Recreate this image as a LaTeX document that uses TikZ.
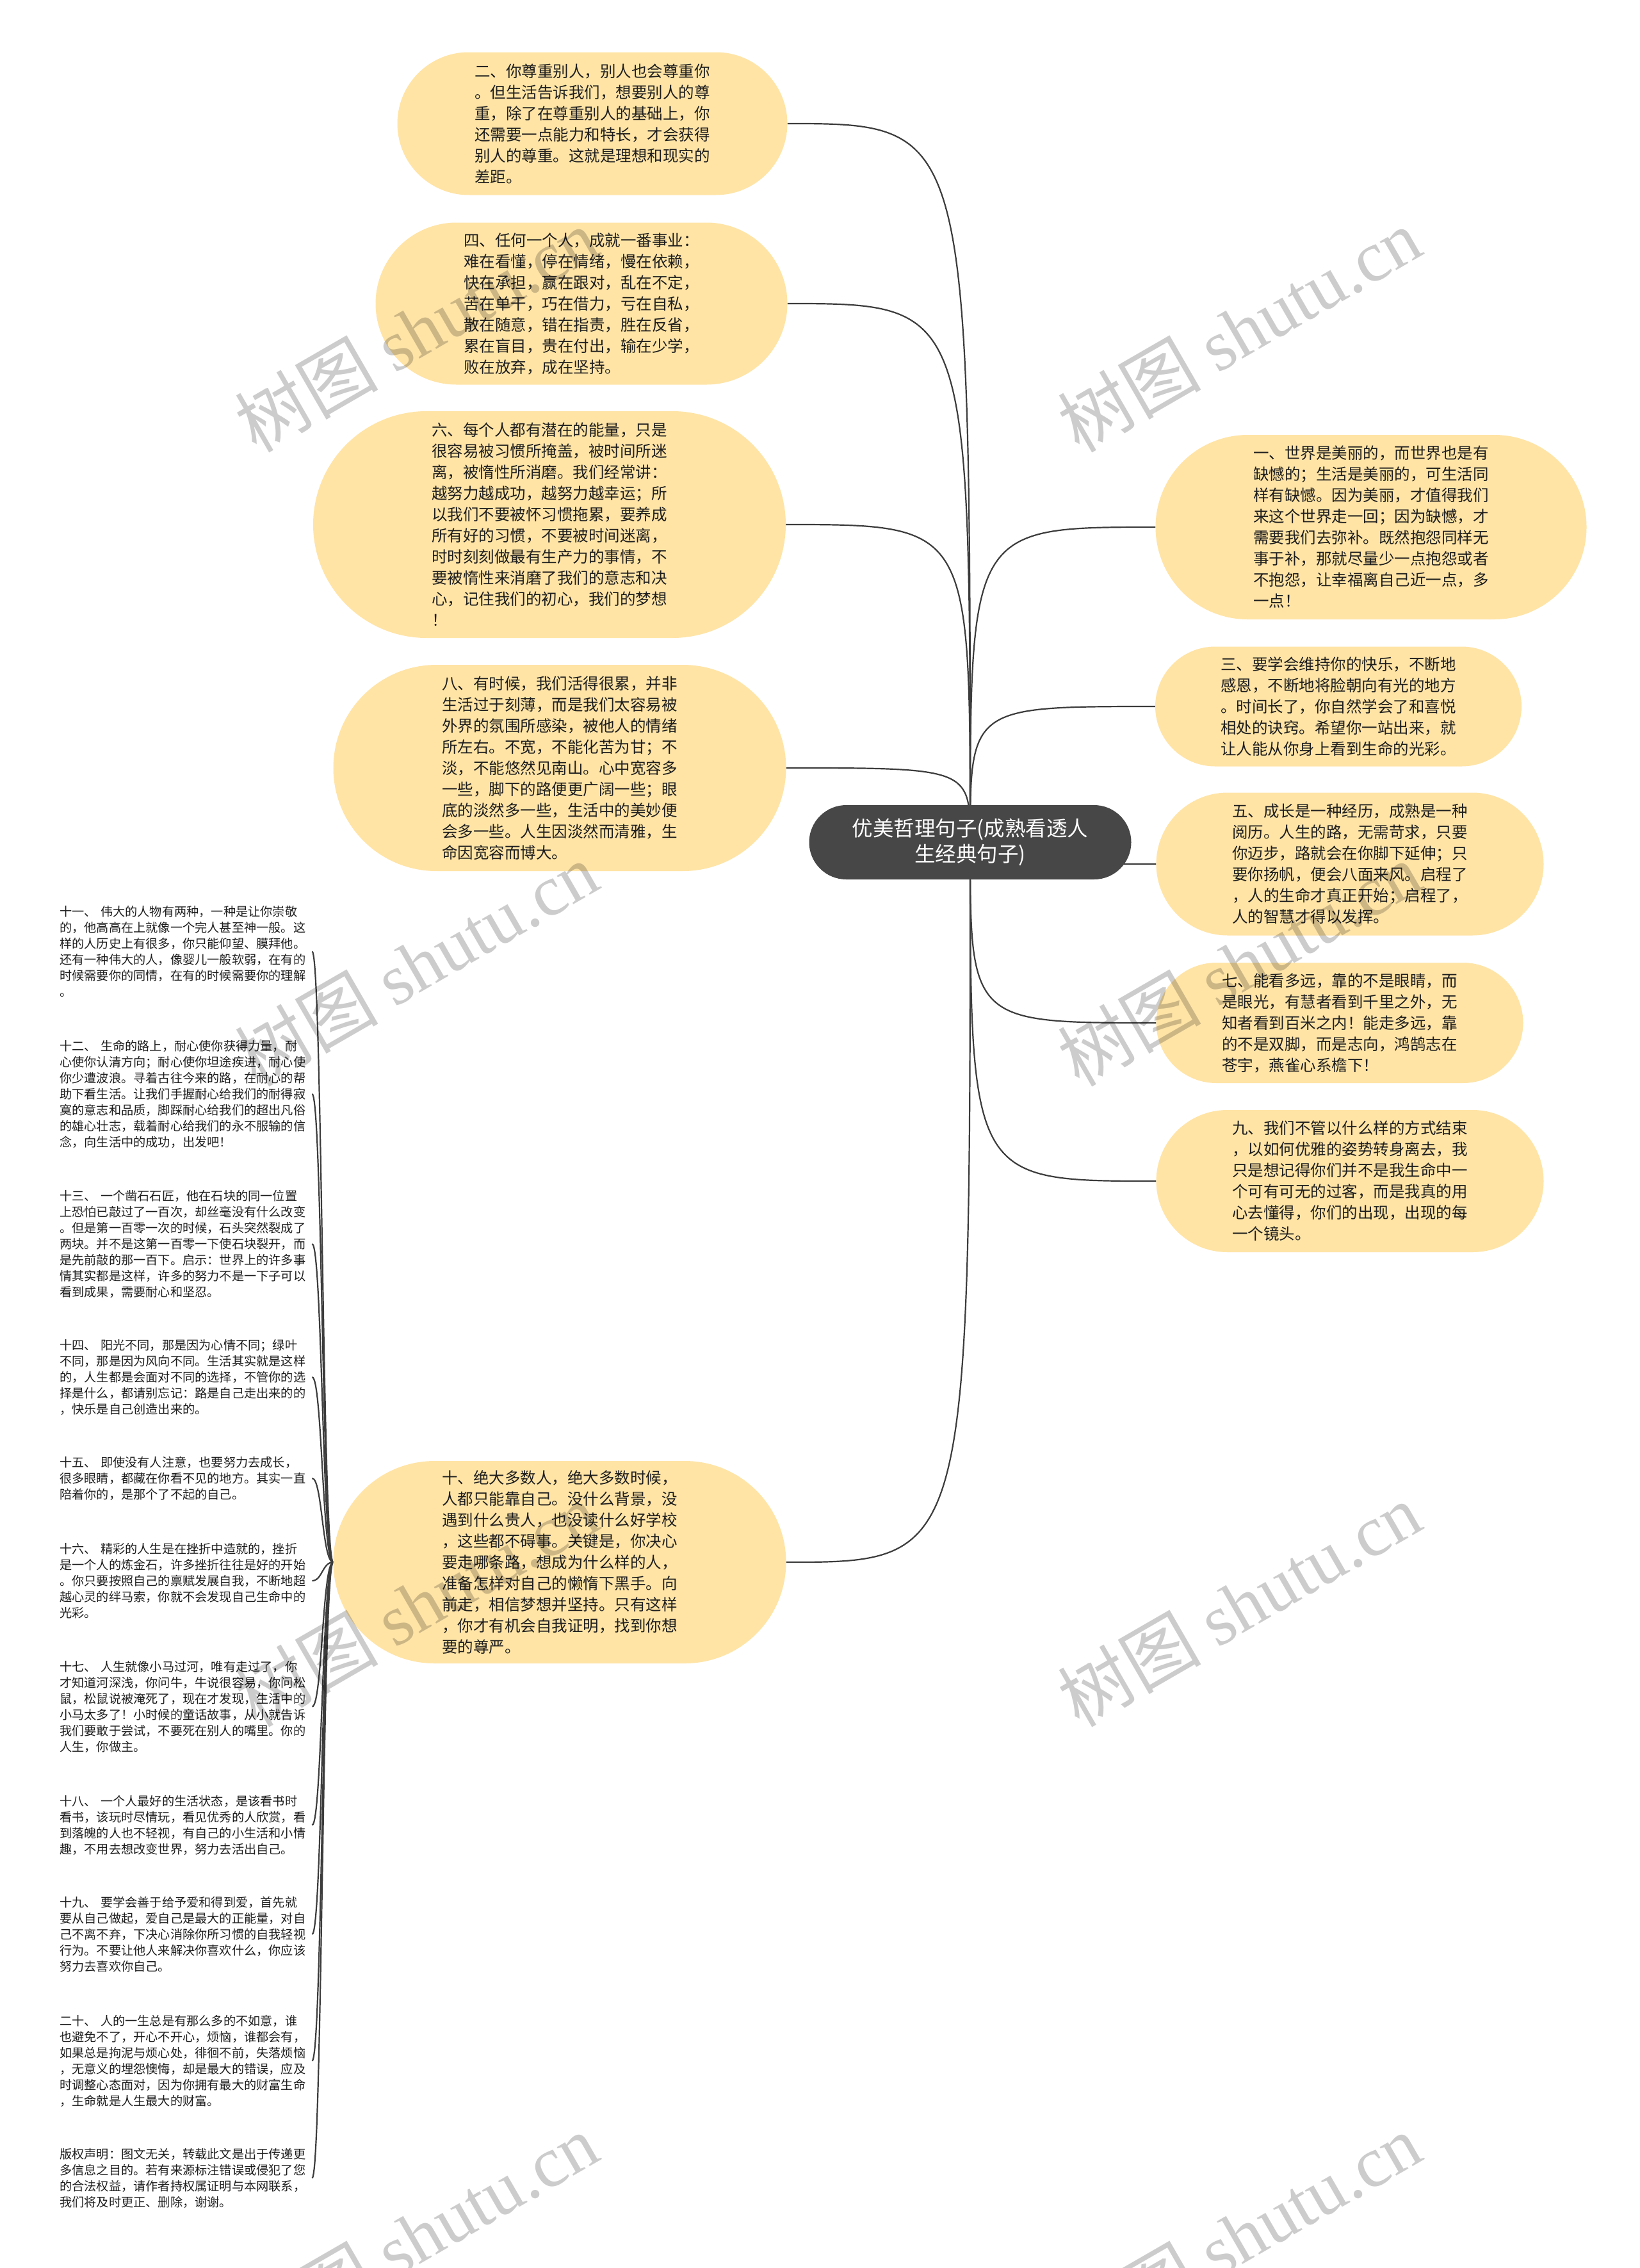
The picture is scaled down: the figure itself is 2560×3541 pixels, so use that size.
\documentclass[tikz,border=0pt]{standalone}
\usepackage{fontspec}
\setmainfont{Noto Sans CJK SC}
\newfontfamily\wmlatin{Liberation Serif}
\usetikzlibrary{backgrounds,calc}
\definecolor{pillfill}{RGB}{255,228,166}
\definecolor{rootfill}{RGB}{71,71,71}
\definecolor{linec}{RGB}{60,60,60}
\definecolor{textc}{RGB}{30,30,30}
\begin{document}
\begin{tikzpicture}[x=1pt,y=-1pt,
  pill/.style 2 args={draw=none, fill=pillfill, rectangle, minimum width=#1pt, minimum height=#2pt,
     rounded corners=0.5*#2pt, inner sep=0pt, align=left, text=textc,
     font=\fontsize{24.5}{33}\selectfont},
  rootbox/.style={fill=rootfill, text=white, rectangle, rounded corners=58pt, minimum width=503pt,
     minimum height=116pt, inner sep=0pt, align=center, font=\fontsize{32.5}{40}\selectfont},
  item/.style={anchor=west, inner xsep=5pt, inner ysep=0pt, text width=389pt, align=left,
     text=textc, font=\fontsize{19.2}{25}\selectfont},
  conn/.style={draw=linec, line width=2.2pt},
  wm/.style={rotate=30, text=black, text opacity=0.2, inner sep=0pt, font=\fontsize{112}{112}\selectfont}]

\begin{scope}[on background layer]
  \fill[white] (0,0) rectangle (2560,3541);
\end{scope}
\useasboundingbox (0,0) rectangle (2560,3541);

% root
\node[rootbox] (root) at (1515,1315) {优美哲理句子(成熟看透人\\生经典句子)};

% left-upper nodes
\node[pill={609}{223}] (n2) at (925,193) {二、你尊重别人，别人也会尊重你\\。但生活告诉我们，想要别人的尊\\重，除了在尊重别人的基础上，你\\还需要一点能力和特长，才会获得\\别人的尊重。这就是理想和现实的\\差距。};
\node[pill={643}{253}] (n4) at (908,474) {四、任何一个人，成就一番事业：\\难在看懂，停在情绪，慢在依赖，\\快在承担，赢在跟对，乱在不定，\\苦在单干，巧在借力，亏在自私，\\散在随意，错在指责，胜在反省，\\累在盲目，贵在付出，输在少学，\\败在放弃，成在坚持。};
\node[pill={738}{354}] (n6) at (858,819) {六、每个人都有潜在的能量，只是\\很容易被习惯所掩盖，被时间所迷\\离，被惰性所消磨。我们经常讲：\\越努力越成功，越努力越幸运；所\\以我们不要被怀习惯拖累，要养成\\所有好的习惯，不要被时间迷离，\\时时刻刻做最有生产力的事情，不\\要被惰性来消磨了我们的意志和决\\心，记住我们的初心，我们的梦想\\！};
\node[pill={707}{322}] (n8) at (874,1199) {八、有时候，我们活得很累，并非\\生活过于刻薄，而是我们太容易被\\外界的氛围所感染，被他人的情绪\\所左右。不宽，不能化苦为甘；不\\淡，不能悠然见南山。心中宽容多\\一些，脚下的路便更广阔一些；眼\\底的淡然多一些，生活中的美妙便\\会多一些。人生因淡然而清雅，生\\命因宽容而博大。};
\node[pill={707}{316}] (n10) at (874,2439) {十、绝大多数人，绝大多数时候，\\人都只能靠自己。没什么背景，没\\遇到什么贵人，也没读什么好学校\\，这些都不碍事。关键是，你决心\\要走哪条路，想成为什么样的人，\\准备怎样对自己的懒惰下黑手。向\\前走，相信梦想并坚持。只有这样\\，你才有机会自我证明，找到你想\\要的尊严。};

% right nodes
\node[pill={673}{288}] (n1) at (2141,823) {一、世界是美丽的，而世界也是有\\缺憾的；生活是美丽的，可生活同\\样有缺憾。因为美丽，才值得我们\\来这个世界走一回；因为缺憾，才\\需要我们去弥补。既然抱怨同样无\\事于补，那就尽量少一点抱怨或者\\不抱怨，让幸福离自己近一点，多\\一点！};
\node[pill={572}{187}] (n3) at (2090,1103) {三、要学会维持你的快乐，不断地\\感恩，不断地将脸朝向有光的地方\\。时间长了，你自然学会了和喜悦\\相处的诀窍。希望你一站出来，就\\让人能从你身上看到生命的光彩。};
\node[pill={605}{223}] (n5) at (2108,1349) {五、成长是一种经历，成熟是一种\\阅历。人生的路，无需苛求，只要\\你迈步，路就会在你脚下延伸；只\\要你扬帆，便会八面来风。启程了\\，人的生命才真正开始；启程了，\\人的智慧才得以发挥。};
\node[pill={573}{188}] (n7) at (2092,1597) {七、能看多远，靠的不是眼睛，而\\是眼光，有慧者看到千里之外，无\\知者看到百米之内！能走多远，靠\\的不是双脚，而是志向，鸿鹄志在\\苍宇，燕雀心系檐下！};
\node[pill={605}{222}] (n9) at (2108,1844) {九、我们不管以什么样的方式结束\\，以如何优雅的姿势转身离去，我\\只是想记得你们并不是我生命中一\\个可有可无的过客，而是我真的用\\心去懂得，你们的出现，出现的每\\一个镜头。};

% left column items
\node[item] (i11) at (88,1485.5) {十一、 伟大的人物有两种，一种是让你崇敬\\的，他高高在上就像一个完人甚至神一般。这\\样的人历史上有很多，你只能仰望、膜拜他。\\还有一种伟大的人，像婴儿一般软弱，在有的\\时候需要你的同情，在有的时候需要你的理解\\。};
\node[item] (i12) at (88,1708) {十二、 生命的路上，耐心使你获得力量，耐\\心使你认清方向；耐心使你坦途疾进，耐心使\\你少遭波浪。寻着古往今来的路，在耐心的帮\\助下看生活。让我们手握耐心给我们的耐得寂\\寞的意志和品质，脚踩耐心给我们的超出凡俗\\的雄心壮志，载着耐心给我们的永不服输的信\\念，向生活中的成功，出发吧！};
\node[item] (i13) at (88,1942) {十三、 一个凿石石匠，他在石块的同一位置\\上恐怕已敲过了一百次，却丝毫没有什么改变\\。但是第一百零一次的时候，石头突然裂成了\\两块。并不是这第一百零一下使石块裂开，而\\是先前敲的那一百下。启示：世界上的许多事\\情其实都是这样，许多的努力不是一下子可以\\看到成果，需要耐心和坚忍。};
\node[item] (i14) at (88,2150) {十四、 阳光不同，那是因为心情不同；绿叶\\不同，那是因为风向不同。生活其实就是这样\\的，人生都是会面对不同的选择，不管你的选\\择是什么，都请别忘记：路是自己走出来的的\\，快乐是自己创造出来的。};
\node[item] (i15) at (88,2308) {十五、 即使没有人注意，也要努力去成长，\\很多眼睛，都藏在你看不见的地方。其实一直\\陪着你的，是那个了不起的自己。};
\node[item] (i16) at (88,2468) {十六、 精彩的人生是在挫折中造就的，挫折\\是一个人的炼金石，许多挫折往往是好的开始\\。你只要按照自己的禀赋发展自我，不断地超\\越心灵的绊马索，你就不会发现自己生命中的\\光彩。};
\node[item] (i17) at (88,2664.5) {十七、 人生就像小马过河，唯有走过了，你\\才知道河深浅，你问牛，牛说很容易，你问松\\鼠，松鼠说被淹死了，现在才发现，生活中的\\小马太多了！小时候的童话故事，从小就告诉\\我们要敢于尝试，不要死在别人的嘴里。你的\\人生，你做主。};
\node[item] (i18) at (88,2849.5) {十八、 一个人最好的生活状态，是该看书时\\看书，该玩时尽情玩，看见优秀的人欣赏，看\\到落魄的人也不轻视，有自己的小生活和小情\\趣，不用去想改变世界，努力去活出自己。};
\node[item] (i19) at (88,3020) {十九、 要学会善于给予爱和得到爱，首先就\\要从自己做起，爱自己是最大的正能量，对自\\己不离不弃，下决心消除你所习惯的自我轻视\\行为。不要让他人来解决你喜欢什么，你应该\\努力去喜欢你自己。};
\node[item] (i20) at (88,3217.5) {二十、 人的一生总是有那么多的不如意，谁\\也避免不了，开心不开心，烦恼，谁都会有，\\如果总是拘泥与烦心处，徘徊不前，失落烦恼\\，无意义的埋怨懊悔，却是最大的错误，应及\\时调整心态面对，因为你拥有最大的财富生命\\，生命就是人生最大的财富。};
\node[item] (i21) at (88,3400.5) {版权声明：图文无关，转载此文是出于传递更\\多信息之目的。若有来源标注错误或侵犯了您\\的合法权益，请作者持权属证明与本网联系，\\我们将及时更正、删除，谢谢。};

\coordinate (jn) at ([xshift=-17pt]n10.west);

% connectors
\begin{scope}[on background layer]
  \foreach \n in {n2,n4,n6,n8,n10}
    \draw[conn] (root.center) .. controls (root.center |- \n.east) .. (\n.east);
  \foreach \n in {n1,n3,n5,n7,n9}
    \draw[conn] (root.center) .. controls (root.center |- \n.west) .. (\n.west);
  \foreach \n in {i11,i12,i13,i14,i15,i16,i17,i18,i19,i20,i21}
    \draw[conn] (n10.west) .. controls (jn) and (jn |- \n.east) .. (\n.east);
\end{scope}

% watermarks
\foreach \i/\x/\y in {1/650/515,2/1935/515,3/650/1505,4/1935/1505,5/650/2505,6/1935/2505,7/650/3490,8/1935/3490}
  \node[wm] (wm\i) at (\x,\y) {树图 {\wmlatin shutu.cn}};
\end{tikzpicture}
\end{document}
